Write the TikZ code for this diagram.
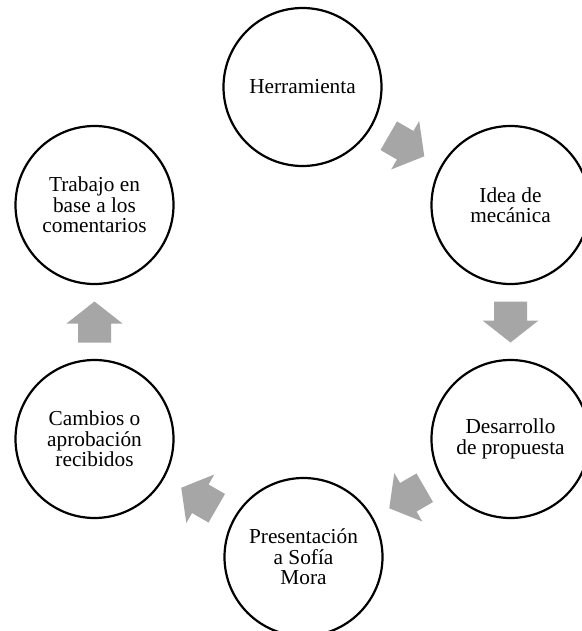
\documentclass[tikz,border=0pt]{standalone}
\usepackage{fontspec}
\setmainfont{Liberation Serif}
\usetikzlibrary{calc}
\definecolor{arrowgray}{HTML}{A6A6A6}
\tikzset{
  stage/.style={circle, draw=black, line width=2.2pt, minimum size=158pt,
    inner sep=0pt, align=center, font=\fontsize{21.3}{20.5}\selectfont},
  blockarrow/.pic={\fill[arrowgray] (-20.5,-16.5) -- (-1.5,-16.5) -- (-1.5,-28)
    -- (20.5,0) -- (-1.5,28) -- (-1.5,16.5) -- (-20.5,16.5) -- cycle;}
}
\begin{document}
\begin{tikzpicture}[x=1pt,y=-1pt]
\useasboundingbox (0,0) rectangle (581,631);
\fill[white] (0,0) rectangle (581,631);
\node[stage] (h) at (302.5,87) {Herramienta};
\node[stage] (i) at (510.5,205) {Idea de\\mecánica};
\node[stage] (d) at (510.5,439) {Desarrollo\\de propuesta};
\node[stage] (p) at (303.5,557) {Presentación\\a Sofía\\Mora};
\node[stage] (c) at (94.5,439) {Cambios o\\aprobación\\recibidos};
\node[stage] (t) at (94.5,205) {Trabajo en\\base a los\\comentarios};
\coordinate (hi) at ($(h)!0.5!(i)$);
\coordinate (id) at ($(i)!0.5!(d)$);
\coordinate (dp) at ($(d)!0.5!(p)$);
\coordinate (pc) at ($(p)!0.5!(c)$);
\coordinate (ct) at ($(c)!0.5!(t)$);
\pic[rotate=-30] at (hi) {blockarrow};
\pic[rotate=-90] at (id) {blockarrow};
\pic[rotate=-150] at (dp) {blockarrow};
\pic[rotate=150] at (pc) {blockarrow};
\pic[rotate=90] at (ct) {blockarrow};
\end{tikzpicture}
\end{document}
